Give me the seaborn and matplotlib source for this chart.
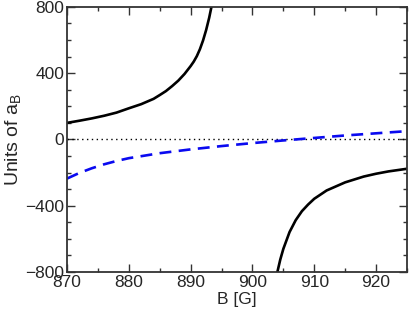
import seaborn as sns
import matplotlib.pyplot as plt
import numpy as np
import pandas as pd
from matplotlib.ticker import MultipleLocator

sns.set_style('ticks')
plt.rcParams['font.family'] = ['Liberation Sans', 'DejaVu Sans']
plt.rcParams['mathtext.fontset'] = 'custom'
plt.rcParams['mathtext.rm'] = 'Liberation Sans'

# black curve, branch below the resonance
b_low = [870, 872, 874, 876, 878, 880, 882, 884, 885, 886, 887, 888, 889, 890,
         890.5, 891, 891.5, 892, 892.5, 893, 893.5]
a_low = [100, 113, 127, 143, 162, 188, 213, 245, 268, 292, 322, 355, 395, 443,
         470, 503, 545, 597, 660, 735, 825]

# black curve, branch above the resonance
b_high = [903.8, 904, 904.5, 905, 906, 907, 908, 909, 910, 912, 915, 918, 920, 922, 925]
a_high = [-840, -805, -725, -660, -559, -487, -433, -393, -358, -308, -259, -224, -207, -193, -177]

# blue dashed curve
b_blue = [870, 872, 874, 876, 878, 880, 885, 890, 895, 900, 905, 910, 915, 920, 925]
a_blue = [-236, -202, -174, -150, -130, -113, -83, -60, -40, -22, -6, 9, 24, 37, 50]

fig = plt.figure(figsize=(4.09, 3.13), dpi=100)
ax = fig.add_axes([0.164, 0.131, 0.831, 0.847])

ax.axhline(0, color='black', lw=1, ls=(0, (1, 2.5)))
sns.lineplot(x=b_low, y=a_low, ax=ax, color='black', lw=1.9)
sns.lineplot(x=b_high, y=a_high, ax=ax, color='black', lw=1.9)
sns.lineplot(x=b_blue, y=a_blue, ax=ax, color='#0a0af0', lw=1.9, ls=(0, (4.5, 2.8)))

ax.set_xlim(870, 925)
ax.set_ylim(-800, 800)
ax.xaxis.set_major_locator(MultipleLocator(10))
ax.xaxis.set_minor_locator(MultipleLocator(5))
ax.yaxis.set_major_locator(MultipleLocator(400))
ax.yaxis.set_minor_locator(MultipleLocator(100))
ax.tick_params(which='both', direction='in', top=True, right=True,
               color='#333333', labelsize=12.5, pad=2)
ax.tick_params(which='major', length=6, width=1)
ax.tick_params(which='minor', length=3, width=1)
for s in ax.spines.values():
    s.set_color('#333333')
    s.set_linewidth(1.3)

ax.set_xlabel('B [G]', fontsize=12.5, labelpad=1.5)
ax.set_ylabel(r'Units of a$_\mathregular{B}$', fontsize=14, labelpad=1)

plt.savefig('out.png', dpi=100)
